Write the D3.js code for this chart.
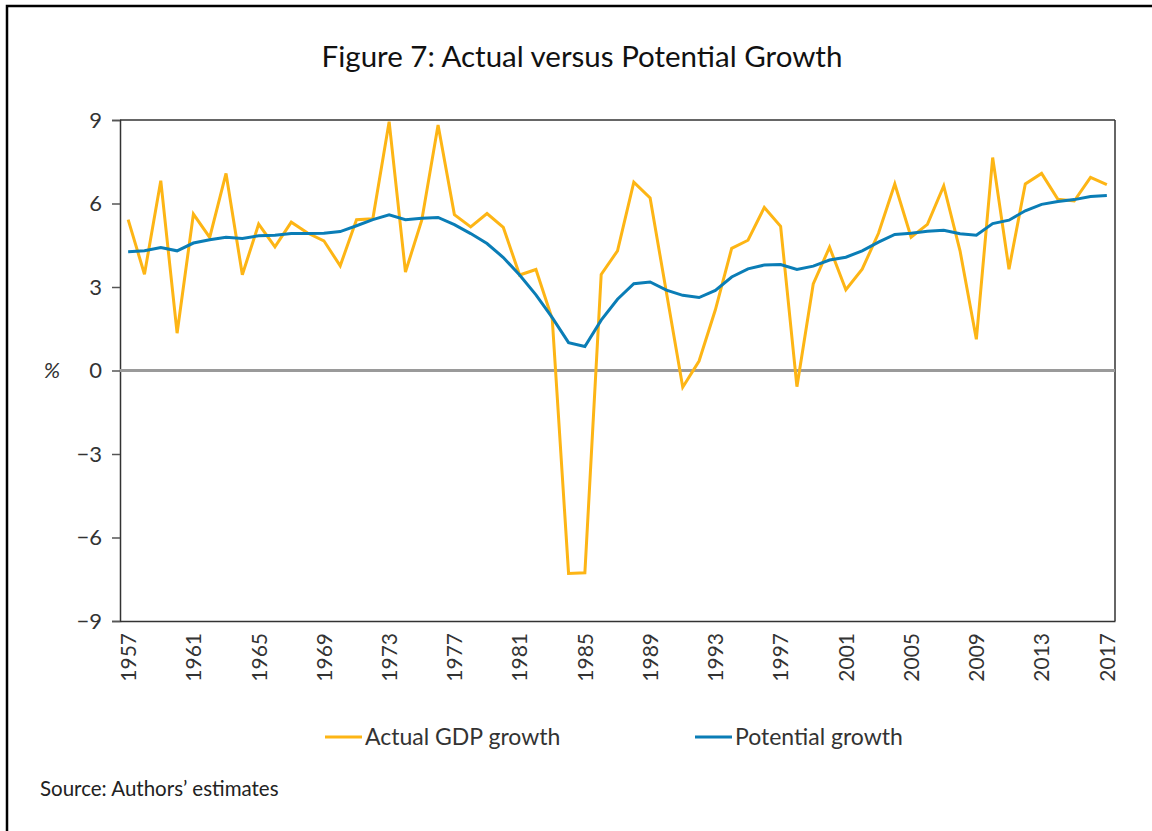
<!DOCTYPE html>
<html><head><meta charset="utf-8">
<script src="https://cdn.jsdelivr.net/npm/d3@7"></script>
<style>body{margin:0;background:#fff}</style>
</head><body>
<svg id="c" width="1152" height="831"></svg>
<script>
const years = d3.range(1957, 2018);
const actualGrowth = [5.42,3.46,6.82,1.34,5.62,4.78,7.08,3.44,5.26,4.44,5.33,4.94,4.66,3.76,5.42,5.45,8.94,3.54,5.40,8.82,
  5.60,5.16,5.64,5.14,3.43,3.63,1.85,-7.29,-7.27,3.45,4.30,6.77,6.20,2.80,-0.60,0.34,2.18,4.39,4.68,5.86,
  5.18,-0.58,3.11,4.43,2.90,3.64,4.93,6.70,4.79,5.25,6.63,4.30,1.12,7.65,3.64,6.70,7.08,6.15,6.09,6.94,6.68];
const potentialGrowth = [4.27,4.30,4.42,4.30,4.58,4.70,4.79,4.74,4.84,4.86,4.92,4.92,4.93,4.99,5.20,5.42,5.59,5.42,5.47,5.50,
  5.24,4.92,4.56,4.06,3.43,2.72,1.90,1.00,0.86,1.81,2.56,3.12,3.18,2.89,2.70,2.62,2.88,3.36,3.65,3.79,
  3.81,3.63,3.75,3.97,4.07,4.30,4.61,4.89,4.93,5.00,5.04,4.91,4.86,5.28,5.40,5.74,5.97,6.07,6.14,6.25,6.29];
const yTicks = [9,6,3,0,-3,-6,-9];
const xTickYears = d3.range(1957, 2018, 4);
const seriesNames = ["Actual GDP growth", "Potential growth"];
const seriesColors = ["#FDB515", "#0A7DB6"];

const svg = d3.select("#c");
const font = "Lato, 'Open Sans', sans-serif";
const L = 120, R = 1115, T = 120, B = 621;

// outer frame (cropped at right/bottom)
svg.append("rect").attr("x",7).attr("y",6).attr("width",1200).attr("height",900)
  .attr("fill","none").attr("stroke","#000").attr("stroke-width",2.5);

svg.append("text").attr("x",582).attr("y",67).attr("text-anchor","middle")
  .attr("font-family",font).attr("font-size",29.5).attr("fill","#111")
  .text("Figure 7: Actual versus Potential Growth");

const x = d3.scalePoint().domain(years).range([L, R]).padding(0.5);
const y = d3.scaleLinear().domain([-9, 9]).range([B, T]);

// plot frame: top and right
svg.append("line").attr("x1",L).attr("x2",R).attr("y1",T).attr("y2",T).attr("stroke","#666").attr("stroke-width",2);
svg.append("line").attr("x1",R).attr("x2",R).attr("y1",T).attr("y2",B).attr("stroke","#333").attr("stroke-width",1.5);

// y axis
const yAxis = svg.append("g").attr("transform",`translate(${L},0)`)
  .call(d3.axisLeft(y).tickValues(yTicks).tickSize(8).tickPadding(10)
    .tickFormat(d => d < 0 ? "\u2212" + Math.abs(d) : d));
yAxis.select(".domain").attr("stroke","#333").attr("stroke-width",1.5);
yAxis.selectAll(".tick line").attr("stroke","#555").attr("stroke-width",1.5);
yAxis.selectAll("text").attr("font-family",font).attr("font-size",22).attr("fill","#333");

// x axis
const xAxis = svg.append("g").attr("transform",`translate(0,${B})`)
  .call(d3.axisBottom(x).tickValues(xTickYears).tickSize(0).tickPadding(0));
xAxis.select(".domain").attr("stroke","#333").attr("stroke-width",1.5);
xAxis.selectAll("text").attr("font-family",font).attr("font-size",21).attr("fill","#333")
  .attr("transform","rotate(-90)").attr("text-anchor","end").attr("dy","0.35em")
  .attr("x",-12).attr("y",0);

// zero line
svg.append("line").attr("x1",L).attr("x2",R).attr("y1",y(0)).attr("y2",y(0))
  .attr("stroke","#9a9a9a").attr("stroke-width",3);

svg.append("text").attr("x",52).attr("y",y(0)).attr("dy","0.35em").attr("text-anchor","middle")
  .attr("font-family",font).attr("font-style","italic").attr("font-size",22).attr("fill","#333").text("%");

const line = d3.line().x((d,i) => x(years[i])).y(d => y(d));
[actualGrowth, potentialGrowth].forEach((s, k) => {
  svg.append("path").datum(s).attr("d", line).attr("fill","none")
    .attr("stroke", seriesColors[k]).attr("stroke-width",3).attr("stroke-linejoin","miter");
});

// legend
const legX = [325, 695];
seriesNames.forEach((n, k) => {
  svg.append("line").attr("x1",legX[k]).attr("x2",legX[k]+37).attr("y1",737).attr("y2",737)
    .attr("stroke",seriesColors[k]).attr("stroke-width",3);
  svg.append("text").attr("x",legX[k]+40).attr("y",737).attr("dy","0.35em")
    .attr("font-family",font).attr("font-size",23).attr("fill","#333").text(n);
});

svg.append("text").attr("x",40).attr("y",789).attr("dy","0.35em")
  .attr("font-family",font).attr("font-size",20.5).attr("fill","#222").text("Source: Authors\u2019 estimates");
</script>
</body></html>
